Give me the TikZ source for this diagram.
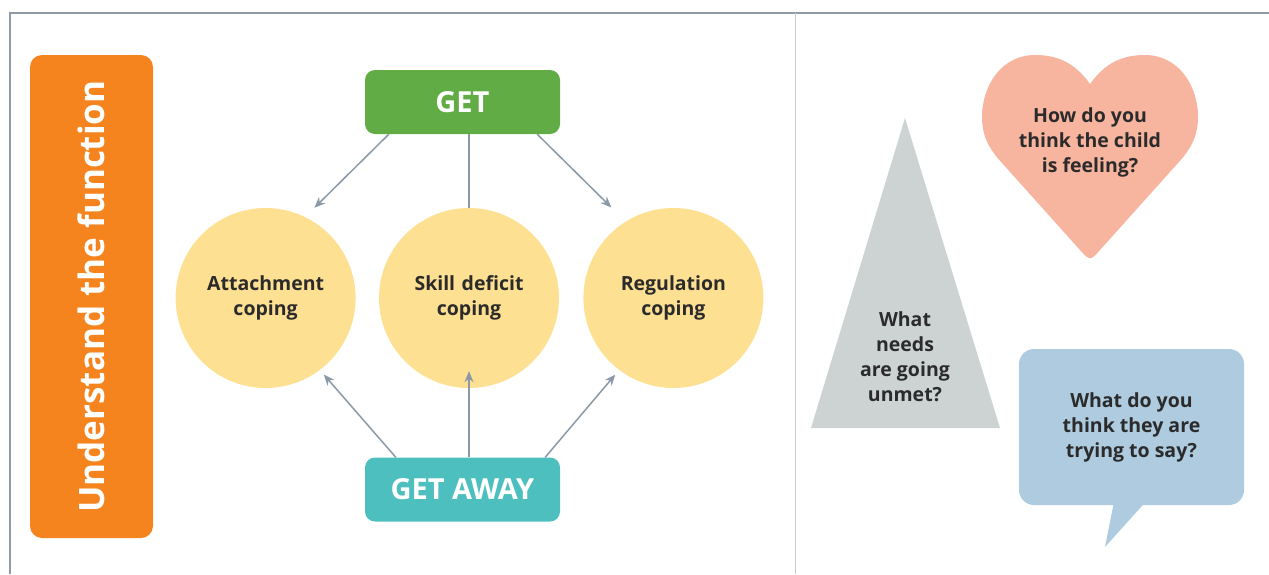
\documentclass[tikz,border=0pt]{standalone}
\usepackage{fontspec}
\setmainfont{Open Sans}
\usetikzlibrary{positioning,arrows.meta}
\definecolor{fnorange}{HTML}{F5841F}
\definecolor{getgreen}{HTML}{62AC45}
\definecolor{awayteal}{HTML}{4DBFBF}
\definecolor{copeyellow}{HTML}{FEE092}
\definecolor{heartpink}{HTML}{F7B49F}
\definecolor{trigray}{HTML}{CDD3D3}
\definecolor{bubbleblue}{HTML}{AECBE0}
\definecolor{arrowgray}{HTML}{8A99A5}
\definecolor{framegray}{HTML}{8E9BA6}
\definecolor{divgray}{HTML}{C8CBCE}
\definecolor{txt}{HTML}{2B2B2B}
\begin{document}
\begin{tikzpicture}[x=1pt,y=-1pt]
    \def\csize{180pt}
    \tikzstyle{signal} = [draw=arrowgray, line width=1.5pt, -{Stealth[length=11pt,width=9pt]}]
    \tikzstyle{coping} = [circle, fill=copeyellow, minimum size=\csize, text width=140pt, align=center, text=txt, font=\fontsize{19.5}{25}\selectfont\bfseries]
    \tikzstyle{tab} = [rounded corners=10pt, minimum width=195pt, minimum height=64pt, text=white, font=\fontsize{29}{34}\selectfont\bfseries]
    \tikzstyle{ask} = [align=center, text=txt, font=\fontsize{19.5}{25}\selectfont\bfseries]

    \useasboundingbox (0,0) rectangle (1269,574);
    \draw[framegray, line width=2pt] (10,574) -- (10,13) -- (1269,13);
    \draw[divgray, line width=0.8pt] (795,13) -- (795,574);

    % left panel
    \node[rounded corners=12pt, fill=fnorange, rotate=90, minimum width=483pt, minimum height=123pt,
        text=white, font=\fontsize{35}{40}\selectfont\bfseries] (fn) at (91.5,296.5) {Understand the function};

    \node[coping] (C2) at (469,298) {Skill deficit\\coping};
    \node[coping, left=23pt of C2] (C1) {Attachment\\coping};
    \node[coping, right=24pt of C2] (C3) {Regulation\\coping};

    \node[tab, fill=getgreen] (get) at (462.5,102) {GET};
    \node[tab, fill=awayteal] (away) at (462.5,489.5) {GET AWAY};

    \draw[signal, shorten >=13pt] ([xshift=24pt]get.south west) -- (C1.64);
    \draw[arrowgray, line width=1.5pt] (C2.north |- get.south) -- (C2.north);
    \draw[signal, shorten >=20pt] ([xshift=-23pt]get.south east) -- (C3.122);
    \draw[signal, shorten >=6pt] ([xshift=31pt]away.north west) -- (C1.-53);
    \draw[signal, shorten >=-17pt] (C2.south |- away.north) -- (C2.south);
    \draw[signal, shorten >=6pt] ([xshift=-15pt]away.north east) -- (C3.-127);

    % right panel
    \fill[trigray] (905,118) -- (1000,428) -- (811,428) -- cycle;
    \node[ask] (unmet) at (905,357) {What\\needs\\are going\\unmet?};

    \fill[heartpink] (1090,84) .. controls (1075,63) and (1058,55) .. (1035,55)
        .. controls (1002,55) and (982,85) .. (982,117)
        .. controls (982,137) and (990,150) .. (1002,163) -- (1080,250)
        .. controls (1090,261) .. (1100,250) -- (1178,163)
        .. controls (1190,150) and (1198,137) .. (1198,117)
        .. controls (1198,85) and (1178,55) .. (1145,55)
        .. controls (1122,55) and (1105,63) .. (1090,84) -- cycle;
    \node[ask] (feel) at (1090,142) {How do you\\think the child\\is feeling?};

    \node[ask, fill=bubbleblue, rounded corners=15pt, minimum width=225pt, minimum height=156pt] (say) at (1131.5,427)
        {What do you\\think they are\\trying to say?};
    \coordinate (tip) at (1105,547);
    \fill[bubbleblue] ([xshift=-18pt,yshift=1pt]say.south) -- (tip) -- ([xshift=12pt,yshift=1pt]say.south) -- cycle;
\end{tikzpicture}
\end{document}
